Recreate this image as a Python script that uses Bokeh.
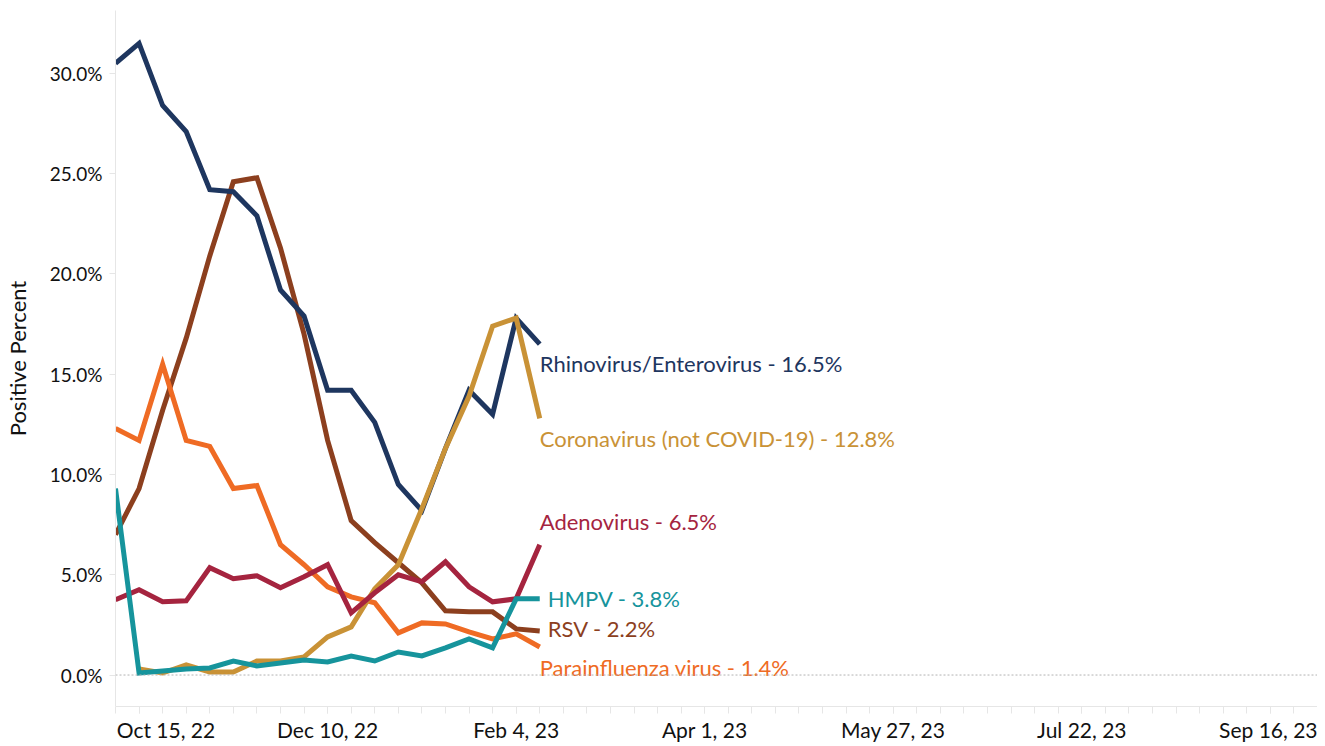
import numpy as np
import pandas as pd
from bokeh.plotting import figure
from bokeh.models import Range1d, FixedTicker, PrintfTickFormatter, Span, ColumnDataSource
from bokeh.core.properties import value
from bokeh.embed import file_html
from bokeh.resources import INLINE

# ---------------- data ----------------
week_dates = ["2022-10-08", "2022-10-15", "2022-10-22", "2022-10-29", "2022-11-05",
              "2022-11-12", "2022-11-19", "2022-11-26", "2022-12-03", "2022-12-10",
              "2022-12-17", "2022-12-24", "2022-12-31", "2023-01-07", "2023-01-14",
              "2023-01-21", "2023-01-28", "2023-02-04", "2023-02-11"]

rhinovirus = [30.5, 31.5, 28.4, 27.1, 24.2, 24.1, 22.9, 19.2, 17.9, 14.2,
              14.2, 12.6, 9.5, 8.2, 11.3, 14.2, 13.0, 17.8, 16.5]
coronavirus = [np.nan, 0.3, 0.1, 0.5, 0.15, 0.15, 0.7, 0.7, 0.9, 1.9,
               2.4, 4.3, 5.5, 8.3, 11.3, 13.9, 17.4, 17.8, 12.8]
rsv = [7.0, 9.3, 13.2, 16.8, 20.9, 24.6, 24.8, 21.3, 17.0, 11.7,
       7.7, 6.6, 5.6, 4.6, 3.2, 3.15, 3.15, 2.3, 2.2]
parainfluenza = [12.3, 11.7, 15.5, 11.7, 11.4, 9.3, 9.45, 6.5, 5.5, 4.4,
                 3.9, 3.6, 2.1, 2.6, 2.55, 2.15, 1.8, 2.05, 1.4]
adenovirus = [3.75, 4.25, 3.65, 3.7, 5.35, 4.8, 4.95, 4.35, 4.9, 5.5,
              3.1, 4.1, 5.0, 4.65, 5.65, 4.4, 3.65, 3.8, 6.5]
hmpv = [9.3, 0.1, 0.2, 0.3, 0.35, 0.7, 0.45, 0.6, 0.75, 0.65,
        0.95, 0.7, 1.15, 0.95, 1.35, 1.8, 1.35, 3.8, 3.8]

series_names = ["RSV", "Parainfluenza virus", "Rhinovirus/Enterovirus",
                "Coronavirus (not COVID-19)", "Adenovirus", "HMPV"]
series_values = [rsv, parainfluenza, rhinovirus, coronavirus, adenovirus, hmpv]
series_colors = ["#8c3f1e", "#ef6b24", "#1e365f", "#c99236", "#a5243f", "#16949c"]
# label placement tweaks (pixels): x shift, y shift (down positive)
label_dx = [8, 0, 0, 0, 0, 8]
label_dy = [-2, 21, 19, 20, -23, 0]

x_tick_dates = ["2022-10-15", "2022-12-10", "2023-02-04", "2023-04-01",
                "2023-05-27", "2023-07-22", "2023-09-16"]
x_tick_labels = ["Oct 15, 22", "Dec 10, 22", "Feb 4, 23", "Apr 1, 23",
                 "May 27, 23", "Jul 22, 23", "Sep 16, 23"]
x_range_dates = ["2022-10-08", "2023-09-30"]
y_ticks = [0, 5, 10, 15, 20, 25, 30]

# ---------------- helpers ----------------
def to_ms(d):
    return float(pd.Timestamp(d).value // 10**6)

xs = [to_ms(d) for d in week_dates]
x0, x1 = to_ms(x_range_dates[0]), to_ms(x_range_dates[1])
week_ms = 7 * 24 * 3600 * 1000.0
minor = list(np.arange(x0, x1 + 1, week_ms))
major = [to_ms(d) for d in x_tick_dates]

FONT = "Lato"
Y0, Y1 = -1.57, 33.14

p = figure(width=1317, height=744, x_axis_type="datetime",
           x_range=Range1d(x0, x1), y_range=Range1d(Y0, Y1),
           output_backend="svg", toolbar_location=None,
           min_border_left=113, min_border_right=0, min_border_top=10,
           min_border_bottom=0)
p.outline_line_color = None
p.xgrid.visible = False
p.ygrid.visible = False
p.background_fill_color = "white"
p.border_fill_color = "white"

p.add_layout(Span(location=0, dimension="width", line_color="#b3b3b3",
                  line_dash="2 2", line_width=1))

for name, vals, col in zip(series_names, series_values, series_colors):
    p.line(xs, vals, line_color=col, line_width=5, line_join="miter")

lbl_src = ColumnDataSource(dict(
    x=[xs[-1]] * len(series_names),
    y=[v[-1] for v in series_values],
    text=[f"{n} - {v[-1]:.1f}%" for n, v in zip(series_names, series_values)],
    color=series_colors, dx=label_dx, dy=label_dy))
p.text(x="x", y="y", text="text", text_color="color", x_offset="dx", y_offset="dy",
       source=lbl_src, text_font=value(FONT), text_font_size="22px",
       text_baseline="middle", text_align="left")

# x axis
TICK_OUT, STANDOFF = 7, 3
xa = p.xaxis[0]
xa.ticker = FixedTicker(ticks=major, minor_ticks=minor)
overrides = {m: l for m, l in zip(major, x_tick_labels)}
# the first label sits shifted right (kept inside the plot), as in the reference
overrides[major[0]] = "\u00a0" * 10 + x_tick_labels[0]
xa.major_label_overrides = overrides
xa.axis_line_color = "#e6e6e6"
xa.major_tick_line_color = "#e6e6e6"
xa.minor_tick_line_color = "#e6e6e6"
xa.major_tick_out = TICK_OUT
xa.major_tick_in = 0
xa.minor_tick_out = TICK_OUT
xa.minor_tick_in = 0
xa.major_label_standoff = STANDOFF
xa.major_label_text_font = FONT
xa.major_label_text_font_size = "21px"
xa.major_label_text_color = "#111111"

# y axis
ya = p.yaxis[0]
ya.ticker = FixedTicker(ticks=y_ticks, minor_ticks=[])
ya.formatter = PrintfTickFormatter(format="%.1f%%")
ya.axis_line_color = "#e6e6e6"
ya.major_tick_line_color = "#e6e6e6"
ya.major_tick_out = 6
ya.major_tick_in = 0
ya.minor_tick_line_color = None
ya.major_label_standoff = 7
ya.major_label_text_font = FONT
ya.major_label_text_font_size = "19px"
ya.major_label_text_color = "#111111"
ya.axis_label = "Positive Percent"
ya.axis_label_text_font = FONT
ya.axis_label_text_font_style = "normal"
ya.axis_label_text_font_size = "22px"
ya.axis_label_text_color = "#111111"
ya.axis_label_standoff = 16

open("out.html", "w").write(file_html(p, INLINE))
